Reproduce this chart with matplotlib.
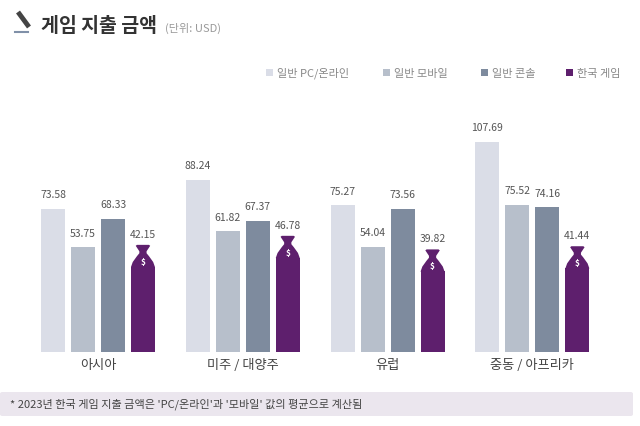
import numpy as np
import matplotlib.pyplot as plt
from matplotlib.patches import Polygon, FancyBboxPatch, Rectangle

plt.rcParams['font.family'] = ['Noto Sans CJK KR', 'DejaVu Sans']

# --- 데이터 ---
regions = ["아시아", "미주 / 대양주", "유럽", "중동 / 아프리카"]
series_names = ["일반 PC/온라인", "일반 모바일", "일반 콘솔", "한국 게임"]
pc_online = [73.58, 88.24, 75.27, 107.69]
mobile = [53.75, 61.82, 54.04, 75.52]
console = [68.33, 67.37, 73.56, 74.16]
korea = [42.15, 46.78, 39.82, 41.44]

colors = ["#dadde7", "#b7bfcb", "#7e8b9e", "#5e1f6d"]
label_color = "#555555"

fig = plt.figure(figsize=(6.4, 4.27), dpi=100)
ax = fig.add_axes([0.040, 0.1733, 0.905, 0.548])
ax.set_xlim(-0.5, 3.5)
ax.set_ylim(0, 120)
ax.axis("off")

x = np.arange(len(regions))
bar_w = 0.166
step = 0.207
offsets = (np.arange(4) - 1.5) * step

all_series = [pc_online, mobile, console]
for k, vals in enumerate(all_series):
    xs = x + offsets[k]
    ax.bar(xs, vals, width=bar_w, color=colors[k], linewidth=0)
    for xi, v in zip(xs, vals):
        ax.text(xi, v + 7.5, f"{v:.2f}", ha="center", va="center",
                fontsize=7.5, color=label_color)

# 한국 게임: 돈주머니 모양
h = bar_w / 2
for xi, v in zip(x + offsets[3], korea):
    ax.bar(xi, v + 1.5, width=bar_w, color=colors[3], linewidth=0)
    pts = [(-h, v + 1.4), (-0.85 * h, v + 4.0), (-0.5 * h, v + 7.0),
           (-0.3 * h, v + 8.5), (-0.3 * h, v + 9.5), (-0.6 * h, v + 12.3),
           (-0.5 * h, v + 12.8), (0.5 * h, v + 12.8), (0.6 * h, v + 12.3),
           (0.3 * h, v + 9.5), (0.3 * h, v + 8.5), (0.5 * h, v + 7.0),
           (0.85 * h, v + 4.0), (h, v + 1.4)]
    ax.add_patch(Polygon([(xi + px, py) for px, py in pts], closed=True,
                         facecolor=colors[3], edgecolor="none"))
    ax.text(xi, v + 4.5, "$", ha="center", va="center", fontsize=6,
            color="white", fontweight="bold")
    ax.text(xi, v + 18.5, f"{v:.2f}", ha="center", va="center",
            fontsize=7.5, color=label_color)

# 지역 라벨
for xi, name in zip(x, regions):
    ax.text(xi, -6.5, name, ha="center", va="center", fontsize=9.5,
            color="#444444", clip_on=False)

# 제목
fig.text(41 / 640, 1 - 27 / 427, "게임 지출 금액", fontsize=14,
         fontweight="bold", color="#333333", va="center", ha="left")
fig.text(165 / 640, 1 - 28 / 427, "(단위: USD)", fontsize=8,
         color="#9a9a9a", va="center", ha="left")

# 아이콘
fig.add_artist(plt.Line2D([18 / 640, 29 / 640], [1 - 13 / 427, 1 - 28 / 427],
                          color="#444444", linewidth=3.5, solid_capstyle="butt"))
fig.add_artist(plt.Line2D([15 / 640, 28 / 640], [1 - 33 / 427, 1 - 33 / 427],
                          color="#8090a8", linewidth=1.5))

# 범례
legend_x = [266, 383, 481, 566]
for lx, name, c in zip(legend_x, series_names, colors):
    fig.add_artist(Rectangle((lx / 640, 1 - 77 / 427), 7 / 640, 7 / 427,
                             facecolor=c, edgecolor="none",
                             transform=fig.transFigure))
    fig.text((lx + 11) / 640, 1 - 73.5 / 427, name, fontsize=8,
             color="#888888", va="center", ha="left")

# 각주
fig.add_artist(FancyBboxPatch((0, 1 - 417 / 427), 633 / 640, 24 / 427,
                              boxstyle="round,pad=0,rounding_size=0.004",
                              facecolor="#ebe6ee", edgecolor="none",
                              transform=fig.transFigure))
fig.text(10 / 640, 1 - 404 / 427,
         "* 2023년 한국 게임 지출 금액은 'PC/온라인'과 '모바일' 값의 평균으로 계산됨",
         fontsize=8, color="#444444", va="center", ha="left")

fig.savefig("out.png", dpi=100)
